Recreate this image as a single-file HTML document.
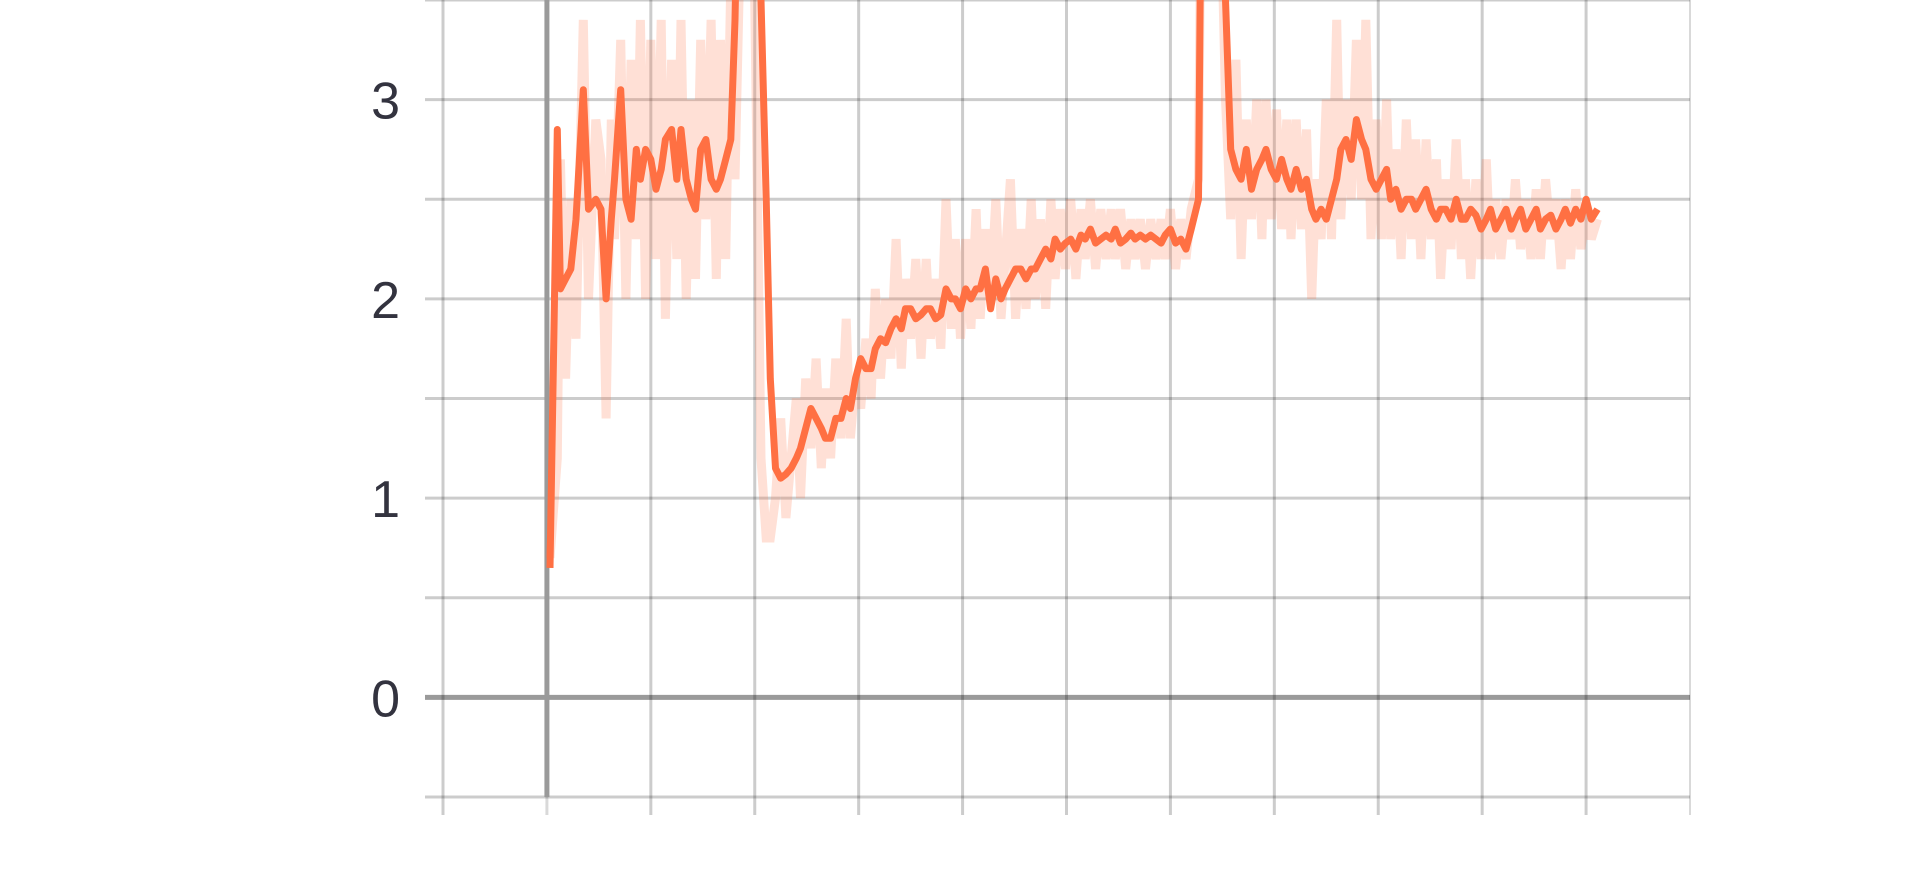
<!DOCTYPE html>
<html><head><meta charset="utf-8"><style>
html,body{margin:0;padding:0;background:#fff;width:1920px;height:893px;overflow:hidden}
svg{display:block}
text{font-family:"Liberation Sans",sans-serif;font-size:52px;fill:#33333f}
</style></head><body>
<svg id="chart" width="1920" height="893" viewBox="0 0 1920 893">
<defs><clipPath id="plotclip"><rect x="443" y="0" width="1247" height="797"/></clipPath></defs>
<g id="grid"></g>
<g id="yaxis"></g>
<g id="series" clip-path="url(#plotclip)"></g>
</svg>
<script>
const steps=[3,10,13,18,23,28,35,40,47,52,57,62,65,71,76,81,86,90,95,100,105,110,114,120,125,129,134,139,143,148,153,158,163,167,172,177,181,187,196,206,211,215,220,225,230,235,240,244,249,254,259,264,268,273,278,283,288,292,297,302,307,312,316,321,326,331,336,341,345,350,355,360,365,369,374,379,384,389,393,398,403,408,413,417,422,427,432,437,441,446,451,456,461,466,470,475,480,485,489,494,499,504,509,514,518,523,528,533,538,543,547,552,557,562,566,571,576,581,586,591,595,600,605,610,615,620,627,631,644,653,658,663,668,673,678,683,688,692,697,702,707,712,716,721,726,731,736,740,745,750,755,760,764,769,774,779,784,788,793,798,803,808,812,817,822,827,832,836,841,846,851,856,860,865,870,875,880,884,889,894,899,904,908,913,918,923,928,932,937,942,947,952,956,961,966,971,976,980,985,990,995,1000,1005,1011];
const smoothed=[0.65,2.85,2.05,2.1,2.15,2.4,3.05,2.45,2.5,2.45,2.0,2.4,2.6,3.05,2.5,2.4,2.75,2.6,2.75,2.7,2.55,2.65,2.8,2.85,2.6,2.85,2.6,2.5,2.45,2.75,2.8,2.6,2.55,2.6,2.7,2.8,3.4,5,5,3.5,2.5,1.6,1.15,1.1,1.12,1.15,1.2,1.25,1.35,1.45,1.4,1.35,1.3,1.3,1.4,1.4,1.5,1.45,1.6,1.7,1.65,1.65,1.75,1.8,1.78,1.85,1.9,1.85,1.95,1.95,1.9,1.92,1.95,1.95,1.9,1.92,2.05,2.0,2.0,1.95,2.05,2.0,2.05,2.05,2.15,1.95,2.1,2.0,2.05,2.1,2.15,2.15,2.1,2.15,2.15,2.2,2.25,2.2,2.3,2.25,2.28,2.3,2.25,2.32,2.3,2.35,2.28,2.3,2.32,2.3,2.35,2.28,2.3,2.33,2.3,2.32,2.3,2.32,2.3,2.28,2.32,2.35,2.28,2.3,2.25,2.35,2.5,5,5,3.5,2.75,2.65,2.6,2.75,2.55,2.65,2.7,2.75,2.65,2.6,2.7,2.6,2.55,2.65,2.55,2.6,2.45,2.4,2.45,2.4,2.5,2.6,2.75,2.8,2.7,2.9,2.8,2.75,2.6,2.55,2.6,2.65,2.5,2.55,2.45,2.5,2.5,2.45,2.5,2.55,2.45,2.4,2.45,2.45,2.4,2.5,2.4,2.4,2.45,2.42,2.35,2.4,2.45,2.35,2.4,2.45,2.35,2.4,2.45,2.35,2.4,2.45,2.35,2.4,2.42,2.35,2.4,2.45,2.38,2.45,2.4,2.5,2.4,2.45];
const raw=[0.7,1.2,2.7,1.6,2.5,1.8,3.4,2.0,2.9,2.7,1.4,2.9,2.3,3.3,2.0,3.2,2.3,3.4,2.0,3.3,2.2,3.4,1.9,3.2,2.2,3.4,2.0,3.0,2.1,3.3,2.4,3.4,2.1,3.3,2.2,3.6,2.6,4,5,1.2,0.8,0.8,1.0,1.4,0.9,1.2,1.5,1.0,1.6,1.25,1.7,1.15,1.55,1.2,1.7,1.3,1.9,1.3,1.6,1.45,1.8,1.5,2.05,1.6,2.0,1.7,2.3,1.65,2.1,1.8,2.2,1.7,2.2,1.8,2.1,1.75,2.5,1.85,2.3,1.8,2.3,1.85,2.45,1.9,2.35,2.0,2.5,1.9,2.2,2.6,1.9,2.35,1.95,2.5,2.0,2.4,1.95,2.5,2.1,2.45,2.15,2.5,2.1,2.45,2.2,2.5,2.15,2.45,2.2,2.45,2.2,2.45,2.15,2.4,2.2,2.4,2.15,2.4,2.2,2.4,2.2,2.45,2.15,2.4,2.2,2.45,2.6,5,5,3.0,2.4,3.2,2.2,2.9,2.4,3.0,2.3,3.0,2.4,2.95,2.35,2.9,2.3,2.9,2.35,2.85,2.0,2.6,2.3,3.0,2.3,3.4,2.4,3.0,2.5,3.3,2.5,3.4,2.3,2.9,2.3,3.0,2.3,2.75,2.2,2.9,2.3,2.8,2.2,2.8,2.3,2.7,2.1,2.6,2.25,2.8,2.2,2.6,2.1,2.6,2.2,2.7,2.2,2.5,2.2,2.5,2.3,2.6,2.25,2.5,2.2,2.55,2.2,2.6,2.3,2.5,2.15,2.5,2.2,2.55,2.25,2.45,2.3,2.4];
const yTicks=[0,1,2,3];
const yGrid=[-0.5,0,0.5,1,1.5,2,2.5,3,3.5];
const xGrid=[-100,0,100,200,300,400,500,600,700,800,900,1000,1100];

const X0=443,X1=1690,Y0=797,Y1=0;
const xs=v=>X0+(v+100)/1200*(X1-X0);
const ys=v=>Y0-(v+0.5)/4*(Y0-Y1);
const NS='http://www.w3.org/2000/svg';
function mk(tag,attrs,parent){const e=document.createElementNS(NS,tag);for(const k in attrs)e.setAttribute(k,attrs[k]);parent.appendChild(e);return e;}
const grid=document.getElementById('grid'),yaxis=document.getElementById('yaxis'),series=document.getElementById('series');

yGrid.forEach(v=>{
  const y=ys(v);
  const l=mk('line',{x1:425,x2:X1,y1:y,y2:y,stroke:v===0?'#9a9a9a':'rgba(0,0,0,0.2)','stroke-width':v===0?5:3},grid);
  
  
});
xGrid.forEach(v=>{
  const x=xs(v);
  const l=mk('line',{x1:x,x2:x,y1:0,y2:v===0?797:815,stroke:v===0?'#9a9a9a':'rgba(0,0,0,0.2)','stroke-width':v===0?5:(v===1100?1.5:3)},grid);
  
  
  if(v===0){const t=mk('line',{x1:x,x2:x,y1:797,y2:815,stroke:'rgba(0,0,0,0.15)','stroke-width':3},grid);
    
    }
});
yTicks.forEach(v=>{
  const t=mk('text',{x:400,y:ys(v)+19,'text-anchor':'end'},yaxis);
  t.textContent=String(v);
  
  
});
const path=arr=>arr.map((v,i)=>(i?'L':'M')+xs(steps[i]).toFixed(1)+','+ys(v).toFixed(1)).join('');
const r=mk('path',{d:path(raw),fill:'none',stroke:'rgba(255,112,67,0.22)','stroke-width':9,'stroke-linejoin':'miter'},series);


const s=mk('path',{d:path(smoothed),fill:'none',stroke:'#ff7043','stroke-width':7,'stroke-linejoin':'round'},series);


</script>
</body></html>
